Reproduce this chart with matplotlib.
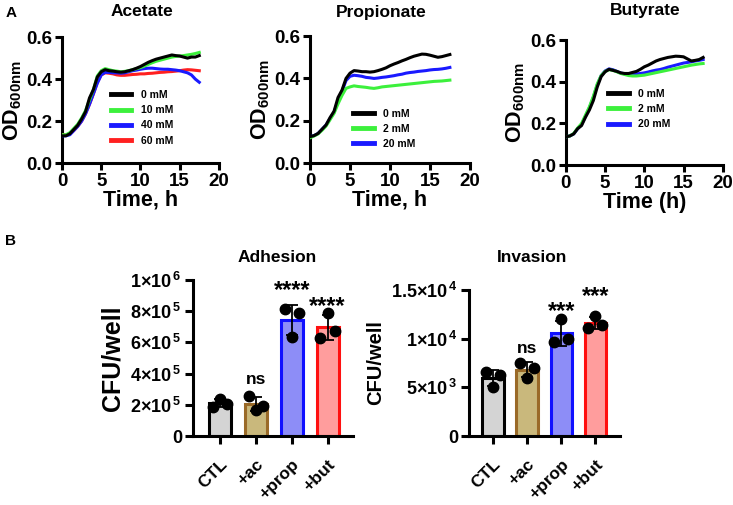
import numpy as np
import matplotlib
matplotlib.use('Agg')
import matplotlib.pyplot as plt

plt.rcParams['font.family'] = ['Liberation Sans', 'DejaVu Sans']
plt.rcParams['font.weight'] = 'bold'
plt.rcParams['mathtext.fontset'] = 'custom'
plt.rcParams['mathtext.bf'] = 'Liberation Sans:bold'
plt.rcParams['mathtext.rm'] = 'Liberation Sans:bold'
plt.rcParams['mathtext.default'] = 'bf'
plt.rcParams['axes.linewidth'] = 2.2

# ---- growth curves (OD600), one reading every 0.5 h ----
hours = np.arange(0, 17.75, 0.5)

acetate_0 = [0.13, 0.13, 0.14, 0.16, 0.18, 0.21, 0.245, 0.31, 0.35, 0.41, 0.435, 0.445,
             0.44, 0.438, 0.435, 0.433, 0.435, 0.44, 0.445, 0.452, 0.46, 0.47, 0.48, 0.488,
             0.495, 0.50, 0.505, 0.51, 0.515, 0.512, 0.51, 0.505, 0.50, 0.505, 0.505, 0.512]
acetate_10 = [0.135, 0.135, 0.145, 0.165, 0.185, 0.215, 0.25, 0.30, 0.35, 0.415, 0.44, 0.45,
              0.445, 0.44, 0.438, 0.435, 0.437, 0.44, 0.445, 0.45, 0.455, 0.462, 0.47, 0.478,
              0.485, 0.49, 0.495, 0.50, 0.505, 0.508, 0.51, 0.512, 0.515, 0.518, 0.522, 0.527]
acetate_40 = [0.13, 0.13, 0.135, 0.155, 0.175, 0.20, 0.235, 0.28, 0.33, 0.38, 0.42, 0.432,
              0.432, 0.43, 0.43, 0.428, 0.43, 0.435, 0.44, 0.443, 0.447, 0.45, 0.452, 0.452,
              0.45, 0.448, 0.447, 0.447, 0.445, 0.443, 0.44, 0.435, 0.43, 0.42, 0.40, 0.385]
acetate_60 = [0.135, 0.135, 0.138, 0.155, 0.175, 0.20, 0.235, 0.28, 0.33, 0.385, 0.42, 0.43,
              0.428, 0.425, 0.42, 0.418, 0.418, 0.42, 0.422, 0.423, 0.425, 0.425, 0.427, 0.428,
              0.43, 0.432, 0.433, 0.435, 0.436, 0.438, 0.44, 0.443, 0.445, 0.444, 0.442, 0.44]

prop_0 = [0.125, 0.13, 0.14, 0.16, 0.18, 0.215, 0.245, 0.31, 0.345, 0.40, 0.425, 0.437,
          0.435, 0.432, 0.432, 0.43, 0.432, 0.437, 0.443, 0.45, 0.46, 0.468, 0.475, 0.483,
          0.49, 0.498, 0.505, 0.51, 0.515, 0.514, 0.51, 0.505, 0.50, 0.503, 0.508, 0.513]
prop_2 = [0.12, 0.128, 0.138, 0.155, 0.175, 0.205, 0.235, 0.28, 0.32, 0.353, 0.36, 0.365,
          0.362, 0.36, 0.358, 0.355, 0.353, 0.356, 0.36, 0.362, 0.364, 0.366, 0.368, 0.37,
          0.372, 0.374, 0.376, 0.378, 0.38, 0.382, 0.384, 0.386, 0.387, 0.388, 0.39, 0.392]
prop_20 = [0.125, 0.13, 0.14, 0.16, 0.18, 0.21, 0.24, 0.295, 0.34, 0.39, 0.41, 0.415,
           0.413, 0.41, 0.405, 0.403, 0.40, 0.402, 0.405, 0.407, 0.41, 0.413, 0.417, 0.42,
           0.425, 0.428, 0.43, 0.433, 0.435, 0.437, 0.44, 0.442, 0.443, 0.445, 0.448, 0.452]

but_0 = [0.136, 0.14, 0.15, 0.175, 0.19, 0.23, 0.265, 0.31, 0.375, 0.425, 0.448, 0.46,
         0.455, 0.45, 0.443, 0.44, 0.44, 0.445, 0.45, 0.46, 0.472, 0.48, 0.49, 0.50,
         0.507, 0.512, 0.517, 0.52, 0.523, 0.522, 0.52, 0.51, 0.50, 0.503, 0.507, 0.517]
but_2 = [0.136, 0.14, 0.152, 0.178, 0.20, 0.24, 0.28, 0.33, 0.39, 0.43, 0.45, 0.458,
         0.455, 0.448, 0.44, 0.435, 0.43, 0.428, 0.428, 0.43, 0.432, 0.436, 0.44, 0.444,
         0.448, 0.452, 0.456, 0.46, 0.464, 0.468, 0.472, 0.476, 0.48, 0.483, 0.486, 0.488]
but_20 = [0.136, 0.14, 0.15, 0.175, 0.195, 0.235, 0.275, 0.325, 0.385, 0.43, 0.452, 0.462,
          0.458, 0.45, 0.442, 0.438, 0.435, 0.436, 0.438, 0.44, 0.443, 0.447, 0.452, 0.456,
          0.459, 0.464, 0.47, 0.475, 0.48, 0.485, 0.49, 0.493, 0.496, 0.50, 0.503, 0.507]

# ---- bar panels: replicate values ----
groups = ['CTL', '+ac', '+prop', '+but']
adhesion = [[1.86e5, 2.40e5, 2.08e5],
            [2.55e5, 1.65e5, 1.93e5],
            [8.14e5, 6.36e5, 7.86e5],
            [6.30e5, 7.86e5, 6.72e5]]
invasion = [[6540, 5070, 6270],
            [7470, 5990, 7020],
            [9690, 11990, 9930],
            [11130, 12330, 11400]]
adh_marks = ['', 'ns', '****', '****']
inv_marks = ['', 'ns', '***', '***']

BLACK = 'black'
GREEN = '#3cf03c'
BLUE = '#1a1aff'
RED = '#ff2020'
bar_fill = ['#d4d4d4', '#c9b87c', '#8d8df7', '#ff9d9d']
bar_edge = ['black', '#9a6a28', '#1010ff', '#ff1010']

fig = plt.figure(figsize=(7.33, 5.05), dpi=100)
W, H = 733.0, 505.0


def growth_panel(rect, title, title_xy, xlabel, curves, labels, colors, anchor):
    ax = fig.add_axes(rect)
    n = len(curves)
    for i, (y, lab, c) in enumerate(zip(curves, labels, colors)):
        ax.plot(hours, y, color=c, lw=2.2, label=lab, zorder=3 + n - i)
    ax.set_xlim(0, 20)
    ax.set_ylim(0, 0.6)
    ax.set_xticks([0, 5, 10, 15, 20])
    ax.set_yticks([0, 0.2, 0.4, 0.6])
    ax.set_yticklabels(['0.0', '0.2', '0.4', '0.6'])
    for s in ['top', 'right']:
        ax.spines[s].set_visible(False)
    ax.tick_params(width=2.2, length=5, labelsize=13.5, pad=2)
    fig.text(title_xy[0] / W, 1 - title_xy[1] / H, title, fontsize=12.5,
             fontweight='bold', ha='center', va='center')
    ax.set_xlabel(xlabel, fontsize=15.5, fontweight='bold', labelpad=0)
    ax.set_ylabel('OD$_{600nm}$', fontsize=15.5, fontweight='bold', labelpad=2)
    leg = ax.legend(loc='upper left', bbox_to_anchor=anchor, frameon=False,
                    prop={'size': 7.5, 'weight': 'bold'}, handlelength=2.0,
                    handletextpad=0.9, labelspacing=0.5, borderpad=0, borderaxespad=0)
    for line in leg.get_lines():
        line.set_linewidth(3.5)
    return ax


growth_panel([0.0846, 0.677, 0.214, 0.2495], 'Acetate', (142, 12), 'Time, h',
             [acetate_0, acetate_10, acetate_40, acetate_60],
             ['0 mM', '10 mM', '40 mM', '60 mM'], [BLACK, GREEN, BLUE, RED], (0.31, 0.58))
growth_panel([0.423, 0.677, 0.218, 0.2515], 'Propionate', (381, 12), 'Time, h',
             [prop_0, prop_2, prop_20],
             ['0 mM', '2 mM', '20 mM'], [BLACK, GREEN, BLUE], (0.27, 0.43))
growth_panel([0.772, 0.673, 0.214, 0.2475], 'Butyrate', (645, 11), 'Time (h)',
             [but_0, but_2, but_20],
             ['0 mM', '2 mM', '20 mM'], [BLACK, GREEN, BLUE], (0.27, 0.61))


def bar_panel(rect, title, title_xy, reps, marks, ymax, yticks, ylabels, ylab_size,
              mark_y, xlim):
    ax = fig.add_axes(rect)
    x = np.arange(len(groups))
    means = [np.mean(r) for r in reps]
    sds = [np.std(r, ddof=1) for r in reps]
    ax.bar(x, means, width=0.62, color=bar_fill, edgecolor=bar_edge, linewidth=2.2, zorder=2)
    ax.errorbar(x, means, yerr=sds, fmt='none', ecolor='black', elinewidth=1.3,
                capsize=4, capthick=1.3, zorder=3)
    jitter = [-0.2, 0.0, 0.2]
    for i, r in enumerate(reps):
        ax.plot(x[i] + np.array(jitter), r, 'o', color='black', ms=7.5, zorder=4)
    for i, m in enumerate(marks):
        if m:
            size = 12.5 if m == 'ns' else 17
            ax.text(x[i], mark_y[i], m, ha='center', va='center', fontsize=size,
                    fontweight='bold')
    ax.set_xlim(*xlim)
    ax.set_ylim(0, ymax)
    ax.set_yticks(yticks)
    ax.set_yticklabels(ylabels)
    ax.set_xticks(x)
    ax.set_xticklabels(groups, rotation=45, ha='right', rotation_mode='anchor')
    for s in ['top', 'right']:
        ax.spines[s].set_visible(False)
    ax.tick_params(width=2.2, length=6, labelsize=13, pad=2)
    ax.tick_params(axis='x', labelsize=12.5, pad=9)
    fig.text(title_xy[0] / W, 1 - title_xy[1] / H, title, fontsize=12.5,
             fontweight='bold', ha='center', va='center')
    ax.set_ylabel('CFU/well', fontsize=ylab_size, fontweight='bold', labelpad=4)
    return ax


bar_panel([0.2633, 0.1366, 0.218, 0.309], 'Adhesion', (277, 257), adhesion, adh_marks, 1e6,
          [0, 2e5, 4e5, 6e5, 8e5, 1e6],
          ['0', r'2$\times$10$^{\,5}$', r'4$\times$10$^{\,5}$', r'6$\times$10$^{\,5}$',
           r'8$\times$10$^{\,5}$', r'1$\times$10$^{\,6}$'],
          18, [0, 3.6e5, 9.3e5, 8.3e5], (-0.75, 3.7))
bar_panel([0.640, 0.1366, 0.206, 0.289], 'Invasion', (532, 258), invasion, inv_marks, 1.5e4,
          [0, 5e3, 1e4, 1.5e4],
          ['0', r'5$\times$10$^{\,3}$', r'1$\times$10$^{\,4}$', r'1.5$\times$10$^{\,4}$'],
          14.5, [0, 9000, 12800, 14300], (-0.7, 3.73))

fig.text(0.007, 0.975, 'A', fontsize=11, fontweight='bold', va='center')
fig.text(0.007, 0.522, 'B', fontsize=11, fontweight='bold', va='center')

fig.savefig('out.png', dpi=100)
